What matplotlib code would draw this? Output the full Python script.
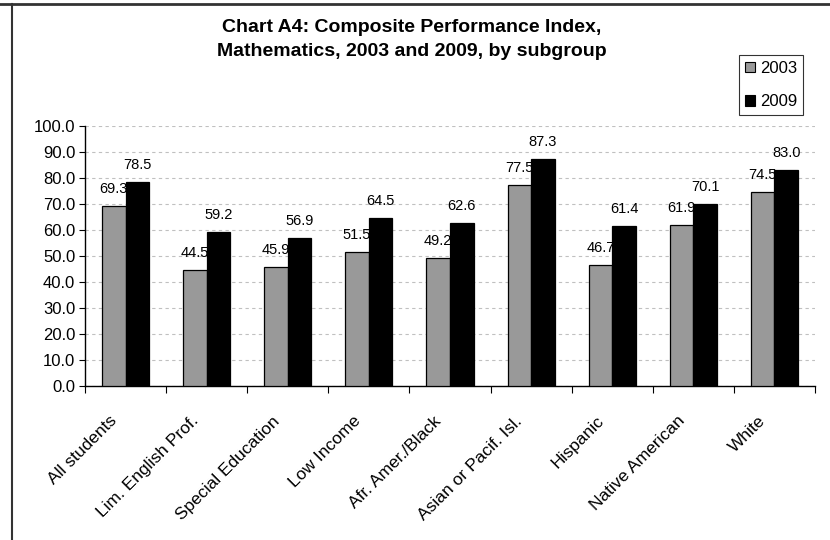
import matplotlib
matplotlib.use("Agg")
import matplotlib.pyplot as plt
import numpy as np
from matplotlib.patches import Patch
from matplotlib.lines import Line2D

categories = ["All students", "Lim. English Prof.", "Special Education", "Low Income",
              "Afr. Amer./Black", "Asian or Pacif. Isl.", "Hispanic", "Native American", "White"]
vals_2003 = [69.3, 44.5, 45.9, 51.5, 49.2, 77.5, 46.7, 61.9, 74.5]
vals_2009 = [78.5, 59.2, 56.9, 64.5, 62.6, 87.3, 61.4, 70.1, 83.0]
series_names = ["2003", "2009"]
yticks = np.arange(0, 101, 10)

plt.rcParams['font.family'] = ['Liberation Sans', 'DejaVu Sans']

fig = plt.figure(figsize=(8.3, 5.4), dpi=100)
ax = fig.add_axes([85/830, 1-386/540, (815-85)/830, (386-126)/540])

x = np.arange(len(categories))
w = 0.29
ax.bar(x - w/2, vals_2003, w, color="#999999", edgecolor="black", linewidth=0.9, zorder=3)
ax.bar(x + w/2, vals_2009, w, color="black", edgecolor="black", linewidth=0.9, zorder=3)

for xi, v in zip(x, vals_2003):
    ax.text(xi - w/2, v + 3.8, f"{v:.1f}", ha="center", va="bottom", fontsize=10.5)
for xi, v in zip(x, vals_2009):
    ax.text(xi + w/2, v + 3.8, f"{v:.1f}", ha="center", va="bottom", fontsize=10.5)

ax.set_xlim(-0.5, len(categories) - 0.5)
ax.set_ylim(0, 100)
ax.set_yticks(yticks)
ax.set_yticklabels([f"{t:.1f}" for t in yticks], fontsize=12)
ax.yaxis.grid(True, linestyle=(0, (3, 3)), color="#c0c0c0", linewidth=0.8, zorder=0)
ax.set_axisbelow(True)

ax.set_xticks(np.arange(len(categories) + 1) - 0.5)
ax.set_xticklabels([])
ax.tick_params(axis="x", direction="out", length=5, width=0.8)
ax.tick_params(axis="y", direction="out", length=4, width=0.8, pad=3)
for xi, c in zip(x, categories):
    ax.text(xi - 0.2, -10.5, c, rotation=45, ha="right", va="top",
            rotation_mode="anchor", fontsize=12.5, transform=ax.transData)

for s in ["top", "right"]:
    ax.spines[s].set_visible(False)
ax.spines["left"].set_linewidth(1.0)
ax.spines["bottom"].set_linewidth(1.0)

fig.text(412/830, 1-27/540, "Chart A4: Composite Performance Index,", ha="center", va="center",
         fontsize=14, fontweight="bold")
fig.text(412/830, 1-51/540, "Mathematics, 2003 and 2009, by subgroup", ha="center", va="center",
         fontsize=14, fontweight="bold")

handles = [Patch(facecolor="#999999", edgecolor="black", linewidth=0.8),
           Patch(facecolor="black", edgecolor="black", linewidth=0.8)]
leg = fig.legend(handles, series_names, loc="upper left",
                 bbox_to_anchor=(739/830, 1-55/540), fontsize=12,
                 frameon=True, fancybox=False, shadow=False,
                 handlelength=0.6, handleheight=0.6, handletextpad=0.3,
                 labelspacing=1.1, borderpad=0.35, borderaxespad=0)
leg.get_frame().set_edgecolor("black")
leg.get_frame().set_linewidth(0.8)

fig.add_artist(Line2D([0, 1], [1-4/540, 1-4/540], color="#333333", linewidth=2, transform=fig.transFigure))
fig.add_artist(Line2D([12/830, 12/830], [0, 1-4/540], color="#333333", linewidth=1.5, transform=fig.transFigure))

fig.savefig("out.png", dpi=100)
